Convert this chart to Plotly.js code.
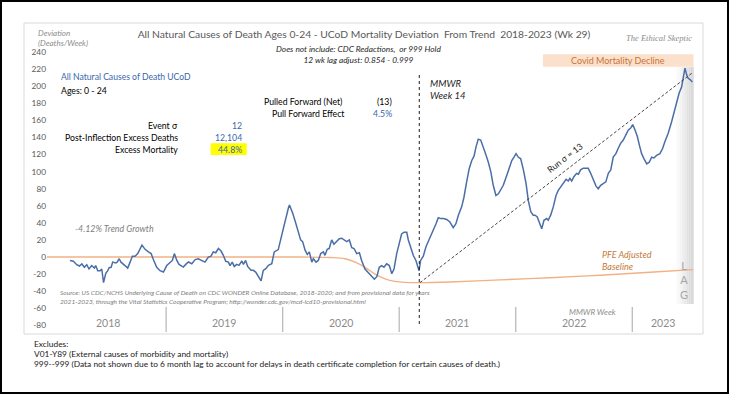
<!DOCTYPE html>
<html>
<head>
<meta charset="utf-8">
<script src="https://cdn.plot.ly/plotly-3.0.1.min.js"></script>
<style>
  html, body { margin: 0; padding: 0; background: #fff; }
  #wrap { position: relative; width: 730px; height: 395px; }
  #chart { width: 730px; height: 395px; }
  #frame { position: absolute; left: 0; top: 0; width: 729px; height: 394px; box-sizing: border-box; border: 2px solid #000; pointer-events: none; }
</style>
</head>
<body>
<div id="wrap"><div id="chart"></div><div id="frame"></div></div>
<script>
// ---------------- DATA ----------------
// Weekly deviation from trend (deaths/week), x = weeks since start of 2018
const weeks = [9.1,10.6,12.1,13.3,14.4,15.5,16.6,17.6,18.8,20.0,20.6,21.5,22.6,23.3,24.1,25.1,26.0,26.6,27.5,28.2,29.6,30.2,31.1,31.9,33.7,34.9,36.0,37.0,38.2,39.4,41.3,42.7,44.2,45.4,46.4,47.9,49.4,50.9,52.4,53.5,54.9,55.8,56.9,57.9,59.8,60.9,62.1,63.6,65.1,66.5,68.1,69.5,71.0,72.2,73.2,74.3,75.5,76.7,77.7,78.8,80.0,80.7,81.7,82.6,83.7,84.7,86.0,86.7,87.7,88.6,90.1,91.1,92.2,93.4,94.6,95.6,96.7,97.9,99.4,100.5,101.6,102.3,103.8,105.3,106.8,107.3,108.8,110.2,111.3,112.3,113.2,114.3,115.3,116.2,117.3,118.0,119.2,120.2,121.3,122.5,123.2,124.2,125.1,126.2,127.2,128.5,129.6,130.7,131.7,132.9,134.1,135.2,136.2,137.4,138.6,139.6,141.1,142.6,144.1,145.3,146.4,147.5,148.6,149.6,150.8,152.0,153.1,154.1,155.3,156.5,157.5,158.6,159.8,160.5,161.6,162.7,163.9,165.0,165.3,166.0,167.2,168.4,169.4,170.5,171.7,172.9,173.9,175.0,176.2,177.7,179.1,180.6,181.8,182.9,184.4,185.4,186.6,187.8,188.9,189.9,190.8,191.8,192.9,194.1,195.3,196.3,197.4,198.5,199.7,200.8,201.8,203.0,204.5,205.7,206.8,207.8,208.7,209.7,210.8,212.0,213.2,214.2,215.3,216.4,217.2,218.2,219.1,220.2,221.2,222.4,223.1,224.2,225.4,226.6,227.6,228.7,229.8,231.1,232.1,232.8,233.6,234.6,235.8,236.6,237.6,238.8,240.0,241.0,242.1,243.3,244.5,245.5,246.6,247.7,248.9,250.0,251.1,252.2,253.4,254.4,255.5,256.7,257.9,258.9,260.0,260.9,262.0,263.0,263.9,264.9,266.0,267.2,268.3,269.4,270.4,271.6,273.1,274.3,275.3,276.8,278.3,279.4,280.6,281.7,282.8,283.5,284.3,285.1,285.8,286.5,287.6];
const deviation = [-4,-5,-9,-10.5,-8,-12,-9,-14,-10,-13,-10,-16,-16,-14,-30,-19,-16,-12.5,-12,-6,-7,-6,-2,-6,-10,-13,-6,1,1,4,14,9,6,4,-3,-12,-16,-17.6,-10,-7,-4,4,-4,-8.6,-11.7,-8.6,-5.8,-7.8,-3,-2,-4,-6,0,1,6,5,10,7,2,-5,-6,-10,-6,-11,-8.6,-9.7,-4.7,-8.6,-4,-11,-15.6,-15.6,-17.6,-23.4,-28,-15.6,-13.6,-9.7,-7.8,6,8,8.7,25,43,57,61,51,39,29,20,18,8,3,6,-6,-2,-6,-4,4,6,2,9,10,20,15,18,21.5,22,20,18,20,11,10,4,5,-4,-14,-18,-23,-26,-23,-12,-10,-12,-8,-10,-19.5,-14,4,16,27,29,29,20,12,2,-4,-14,-16,-4,1,12,18,23,32,39,46,45,45,44,41,34.5,39,49,59,70,88,104,113,118,129,138,137,129,119,111,100,84,72,74,78,84,95,106,113,117,121,117,115,102,86,66,53,49,49,47,41,33,43,45,43,49,59,72,78,82,86,91,89,92,89,94,98,97,102,104,104,104,98,90,83,80,84,86,88,98,102,117,121,127,133,137,143,148.5,151,155,148.5,141,131,121,115,109,111,117,116,119,121,127,135,145,158,170,182,192,199,209,221,213,209,208,205];

// PFE adjusted baseline
const baseWeeks = [-1.2,112,125.5,132.2,136.7,141.1,145.6,150.1,154.5,159,165.7,179.1,201.5,223.9,246.3,268.7,287.9];
const baseValues = [0,0,-0.5,-2,-6,-12,-20,-25.5,-28.5,-29.7,-30,-29.2,-26.8,-24.2,-21.3,-17.8,-14.8];

// Run sigma trend line
const runWeeks = [165.7, 287.3];
const runValues = [-30, 215];

// Category axis
const yearLabels = ['2018','2019','2020','2021','2022','2023'];
const yearStarts = [0, 52.1, 104.3, 156.4, 208.6, 260.7];
const lastWeek = 287.9;
const inflectionWeek = 165.4;   // MMWR week 14 marker

const yTicks = [-80,-60,-40,-20,0,20,40,60,80,100,120,140,160,180,200,220,240];

// Summary stats
const eventSigma = '12';
const excessDeaths = '12,104';
const excessMortality = '44.8%';
const pulledForward = '(13)';
const pullForwardEffect = '4.5%';

// ---------------- LAYOUT HELPERS ----------------
const W = 730, H = 395;
const M = {l: 47, r: 37, t: 52, b: 61};
const plotW = W - M.l - M.r, plotH = H - M.t - M.b;
const xRange = [-1.2, lastWeek];
const yRange = [-90.1, 240];
const px = x => (x - M.l) / plotW;          // pixel x -> paper
const py = y => (H - M.b - y) / plotH;      // pixel y -> paper
const wx = w => (w - xRange[0]) / (xRange[1] - xRange[0]); // week -> paper

const FONT = "Lato, 'Liberation Sans', sans-serif";
const BLUE = '#3a66ad';

function ann(text, x, y, opts) {
  return Object.assign({
    text: text, x: px(x), y: py(y), xref: 'paper', yref: 'paper',
    showarrow: false, xanchor: 'left', yanchor: 'middle',
    font: {family: FONT, size: 8.5, color: '#262626'}
  }, opts || {});
}

const annotations = [
  ann('<i>Deviation<br>(Deaths/Week)</i>', 36, 38, {font: {family: FONT, size: 8, color: '#8c8c8c'}, align: 'left'}),
  ann('<i>Does not include: CDC Redactions,  or 999 Hold</i><br><i>12 wk lag adjust: 0.854 - 0.999</i>', 358, 55,
      {xanchor: 'center', align: 'center', font: {family: FONT, size: 8.3, color: '#262626'}}),
  ann('<i>The Ethical Skeptic</i>', 659, 38, {xanchor: 'center', font: {family: "'Liberation Serif', serif", size: 8.5, color: '#8c8c8c'}}),
  ann('Covid Mortality Decline', 618, 60.8, {xanchor: 'center', font: {family: FONT, size: 9, color: '#c8733a'}}),
  ann('All Natural Causes of Death UCoD', 59, 76.7, {font: {family: FONT, size: 8.6, color: BLUE}}),
  ann('Ages: 0 - 24', 59, 90.7, {font: {family: FONT, size: 8.7, color: '#000'}}),
  ann('Event σ', 180, 125.7, {xanchor: 'right', font: {family: FONT, size: 8.7, color: '#000'}}),
  ann('Post-Inflection Excess Deaths', 180, 137.2, {xanchor: 'right', font: {family: FONT, size: 8.7, color: '#000'}}),
  ann('Excess Mortality', 180, 149.2, {xanchor: 'right', font: {family: FONT, size: 8.7, color: '#000'}}),
  ann(eventSigma, 244.5, 125.7, {xanchor: 'right', font: {family: FONT, size: 8.7, color: BLUE}}),
  ann(excessDeaths, 244.5, 137.2, {xanchor: 'right', font: {family: FONT, size: 8.7, color: BLUE}}),
  ann(excessMortality, 244.5, 149.2, {xanchor: 'right', font: {family: FONT, size: 8.7, color: BLUE}}),
  ann('Pulled Forward (Net)', 343.5, 101, {xanchor: 'right', font: {family: FONT, size: 8.7, color: '#000'}}),
  ann('Pull Forward Effect', 346.5, 113.3, {xanchor: 'right', font: {family: FONT, size: 8.7, color: '#000'}}),
  ann(pulledForward, 393.5, 101, {xanchor: 'right', font: {family: FONT, size: 8.7, color: '#000'}}),
  ann(pullForwardEffect, 393.5, 113.3, {xanchor: 'right', font: {family: FONT, size: 8.7, color: BLUE}}),
  ann('<i>MMWR<br>Week 14</i>', 428, 89, {align: 'left', font: {family: FONT, size: 9.5, color: '#262626'}}),
  ann('<i>-4.12% Trend Growth</i>', 72.5, 228.3, {font: {family: FONT, size: 8.8, color: '#808080'}}),
  ann('<i>Source: US CDC/NCHS Underlying Cause of Death on CDC WONDER Online Database, 2018-2020; and from provisional data for years</i><br><i>2021-2023, through the Vital Statistics Cooperative Program; http://wonder.cdc.gov/mcd-icd10-provisional.html</i>',
      58, 297.3, {align: 'left', font: {family: FONT, size: 6.55, color: '#808080'}}),
  ann('<i>PFE Adjusted<br>Baseline</i>', 600, 260.2, {align: 'left', font: {family: FONT, size: 9, color: '#c47a3a'}}),
  ann('L<br>A<br>G', 683.5, 280, {xanchor: 'center', align: 'center', font: {family: FONT, size: 11, color: '#a6a6a6'}}),
  ann('<i>MMWR Week</i>', 592.7, 312.3, {xanchor: 'center', font: {family: FONT, size: 8, color: '#8c8c8c'}}),
  ann('Excludes:', 31.5, 344, {font: {family: FONT, size: 8.4, color: '#1a1a1a'}}),
  ann('V01-Y89 (External causes of morbidity and mortality)', 31.5, 354, {font: {family: FONT, size: 8.4, color: '#1a1a1a'}}),
  ann('999--999 (Data not shown due to 6 month lag to account for delays in death certificate completion for certain causes of death.)', 31.5, 363.5, {font: {family: FONT, size: 8.4, color: '#1a1a1a'}}),
  {text: 'Run σ = 13', x: 230.6, y: 116, xref: 'x', yref: 'y', showarrow: false, textangle: -37.6,
   font: {family: FONT, size: 8.7, color: '#1a1a1a'}}
];

// year labels, centered within each year span
yearLabels.forEach((lab, i) => {
  const a = yearStarts[i], b = (i + 1 < yearStarts.length) ? yearStarts[i + 1] : lastWeek;
  annotations.push({text: lab, x: wx((a + b) / 2), y: py(322.5), xref: 'paper', yref: 'paper',
    showarrow: false, xanchor: 'center', yanchor: 'middle', font: {family: FONT, size: 10.5, color: '#8c8c8c'}});
});

const shapes = [
  // chart frame
  {type: 'rect', xref: 'paper', yref: 'paper', x0: px(24), x1: px(703), y0: py(23), y1: py(334),
   line: {color: '#d9d9d9', width: 1}, fillcolor: 'rgba(0,0,0,0)', layer: 'below'},
  // Covid box
  {type: 'rect', xref: 'paper', yref: 'paper', x0: px(543), x1: px(693.5), y0: py(54.3), y1: py(66.8),
   line: {width: 0}, fillcolor: '#fbe1cb', layer: 'below'},
  // yellow highlight
  {type: 'rect', xref: 'paper', yref: 'paper', x0: px(210.7), x1: px(246.7), y0: py(143.3), y1: py(155),
   line: {width: 0}, fillcolor: '#ffff00', layer: 'below'},
  // MMWR week 14 dotted marker
  {type: 'line', xref: 'paper', yref: 'paper', x0: wx(inflectionWeek), x1: wx(inflectionWeek), y0: py(75), y1: py(326),
   line: {color: '#1a1a1a', width: 1, dash: 'dot'}}
];
// year separators
yearStarts.slice(1).forEach(w => {
  shapes.push({type: 'line', xref: 'paper', yref: 'paper', x0: wx(w), x1: wx(w), y0: py(307), y1: py(332),
    line: {color: '#a6a6a6', width: 1}});
});
// LAG gradient band
const nStrips = 9;
for (let i = 0; i < nStrips; i++) {
  const x0 = 676 + i * (17.5 / nStrips), x1 = x0 + 17.5 / nStrips + 0.3;
  shapes.push({type: 'rect', xref: 'paper', yref: 'paper', x0: px(x0), x1: px(x1), y0: py(67), y1: py(304),
    line: {width: 0}, fillcolor: 'rgba(150,150,150,' + (0.02 + 0.32 * Math.pow((i + 1) / nStrips, 1.4)).toFixed(3) + ')', layer: 'below'});
}

const traces = [
  {x: baseWeeks, y: baseValues, type: 'scatter', mode: 'lines', line: {color: '#f2b184', width: 1.4, shape: 'spline'}, hoverinfo: 'skip'},
  {x: weeks, y: deviation, type: 'scatter', mode: 'lines', line: {color: '#4a6ea6', width: 1.5}},
  {x: runWeeks, y: runValues, type: 'scatter', mode: 'lines', line: {color: '#333', width: 0.9, dash: '3px,2px'}}
];

const layout = {
  width: W, height: H,
  margin: M,
  showlegend: false,
  paper_bgcolor: '#fff', plot_bgcolor: 'rgba(0,0,0,0)',
  title: {text: 'All Natural Causes of Death Ages 0-24 - UCoD Mortality Deviation  From Trend  2018-2023 (Wk 29)',
          x: 364 / W, xanchor: 'center', y: 1 - 34.7 / H, yanchor: 'middle',
          font: {family: FONT, size: 10.3, color: '#595959'}},
  xaxis: {range: xRange, showgrid: false, zeroline: false, showticklabels: false, showline: false, ticks: ''},
  yaxis: {range: yRange, showgrid: false, zeroline: false, showline: false, ticks: '',
          tickvals: yTicks, ticktext: yTicks.map(String), tickfont: {family: FONT, size: 8.3, color: '#595959'}},
  annotations: annotations,
  shapes: shapes
};

Plotly.newPlot('chart', traces, layout, {staticPlot: true, displayModeBar: false});
</script>
</body>
</html>
